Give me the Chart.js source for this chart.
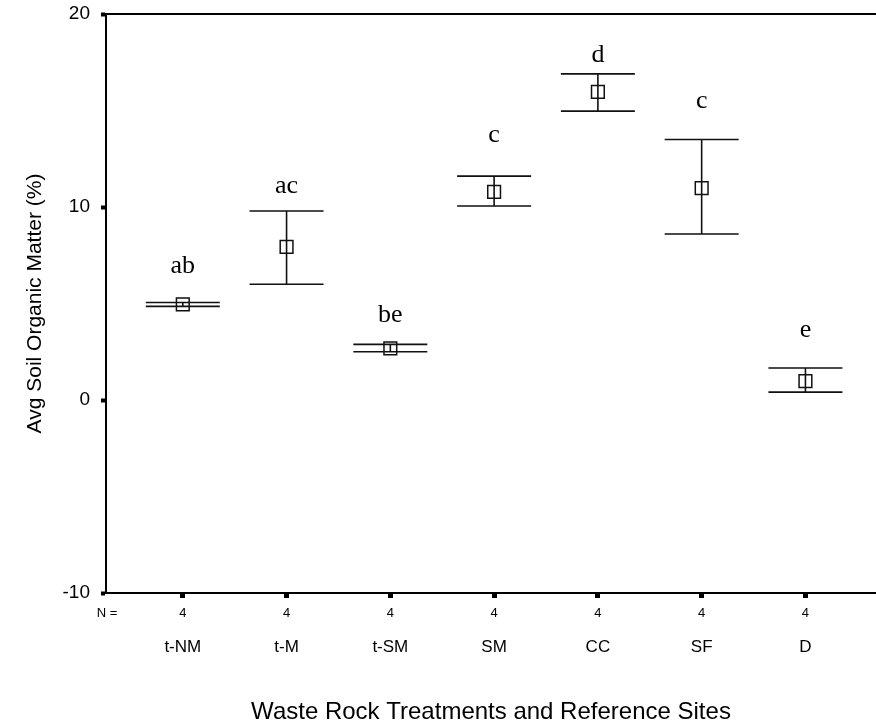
<!DOCTYPE html>
<html>
<head>
<meta charset="utf-8">
<script src="https://cdn.jsdelivr.net/npm/chart.js@4.4.1/dist/chart.umd.min.js"></script>
<style>
  html, body { margin: 0; padding: 0; background: #fff; overflow: hidden; }
  #wrap { width: 876px; height: 728px; }
  #c { display: block; width: 876px; height: 728px; }
</style>
</head>
<body>
<div id="wrap"><canvas id="c" width="876" height="728"></canvas></div>
<script>
// values
const sites = ['t-NM', 't-M', 't-SM', 'SM', 'CC', 'SF', 'D'];
const nCounts = [4, 4, 4, 4, 4, 4, 4];
const means = [4.95, 7.93, 2.68, 10.78, 15.96, 10.98, 0.98];
const upper = [5.05, 9.79, 2.88, 11.6, 16.9, 13.5, 1.66];
const lower = [4.85, 6.0, 2.5, 10.05, 14.97, 8.6, 0.41];
// significance letters and the value their baseline sits at
const letters = ['ab', 'ac', 'be', 'c', 'd', 'c', 'e'];
const letterAt = [6.58, 10.73, 4.04, 13.37, 17.51, 15.13, 3.26];
const yTicks = [-10, 0, 10, 20];

const SANS = '"Liberation Sans", Arial, sans-serif';
const SERIF = '"Liberation Serif", "Times New Roman", serif';

const errorBars = {
    id: 'errorBars',
    afterDatasetsDraw(chart) {
        const { ctx, scales: { x, y }, chartArea } = chart;
        ctx.save();
        ctx.strokeStyle = '#111';
        ctx.lineWidth = 1.6;
        means.forEach((m, i) => {
            const px = x.getPixelForValue(i);
            const yu = y.getPixelForValue(upper[i]);
            const yl = y.getPixelForValue(lower[i]);
            ctx.beginPath();
            ctx.moveTo(px, yu); ctx.lineTo(px, yl);
            ctx.moveTo(px - 37, yu); ctx.lineTo(px + 37, yu);
            ctx.moveTo(px - 37, yl); ctx.lineTo(px + 37, yl);
            ctx.stroke();
        });
        // letters
        ctx.fillStyle = '#000';
        ctx.font = '26px ' + SERIF;
        ctx.textAlign = 'center';
        ctx.textBaseline = 'alphabetic';
        letters.forEach((t, i) => {
            ctx.fillText(t, x.getPixelForValue(i), y.getPixelForValue(letterAt[i]));
        });
        // top frame line
        ctx.strokeStyle = '#000';
        ctx.lineWidth = 2;
        ctx.beginPath();
        ctx.moveTo(chartArea.left, chartArea.top);
        ctx.lineTo(chartArea.right, chartArea.top);
        ctx.stroke();
        ctx.restore();
    },
    afterDraw(chart) {
        const { ctx, scales: { x }, chartArea } = chart;
        ctx.save();
        ctx.fillStyle = '#000';
        ctx.textBaseline = 'middle';
        ctx.textAlign = 'center';
        ctx.font = '13px ' + SANS;
        ctx.fillText('N =', 107, 613);
        nCounts.forEach((n, i) => ctx.fillText(String(n), x.getPixelForValue(i), 613));
        ctx.font = '17px ' + SANS;
        sites.forEach((s, i) => ctx.fillText(s, x.getPixelForValue(i), 647));
        ctx.font = '24px ' + SANS;
        ctx.fillText('Waste Rock Treatments and Reference Sites', (chartArea.left + chartArea.right) / 2, 712);
        // y title
        ctx.translate(35, (chartArea.top + chartArea.bottom) / 2);
        ctx.rotate(-Math.PI / 2);
        ctx.font = '21px ' + SANS;
        ctx.fillText('Avg Soil Organic Matter (%)', 0, 0);
        ctx.restore();
    }
};

function noPad(s) {
    s.paddingTop = 0; s.paddingBottom = 0; s.paddingLeft = 0; s.paddingRight = 0;
}

new Chart(document.getElementById('c'), {
    type: 'scatter',
    data: {
        datasets: [{
            data: means.map((m, i) => ({ x: i, y: m })),
            pointStyle: 'rect',
            pointRadius: 9,
            pointHoverRadius: 9,
            backgroundColor: '#fff',
            borderColor: '#111',
            borderWidth: 1.5,
        }]
    },
    options: {
        responsive: false,
        maintainAspectRatio: false,
        animation: false,
        events: [],
        layout: { autoPadding: false, padding: { top: 14, right: 0, left: 0, bottom: 0 } },
        plugins: { legend: { display: false }, tooltip: { enabled: false } },
        scales: {
            x: {
                type: 'linear',
                min: -0.74,
                max: 6.68,
                afterFit: (s) => { s.height = 135; noPad(s); },
                border: { display: true, color: '#000', width: 2 },
                grid: { drawOnChartArea: false, drawTicks: true, tickLength: 5, tickWidth: 5, color: '#000' },
                ticks: { display: false, stepSize: 1, includeBounds: false },
            },
            y: {
                min: -10,
                max: 20,
                afterFit: (s) => { s.width = 106; noPad(s); },
                afterBuildTicks: (s) => { s.ticks = yTicks.map(v => ({ value: v })); },
                border: { display: true, color: '#000', width: 2 },
                grid: { drawOnChartArea: false, drawTicks: true, tickLength: 5, tickWidth: 4, color: '#000' },
                ticks: { color: '#000', padding: 11, font: { family: SANS, size: 19 } },
            }
        }
    },
    plugins: [errorBars]
});
</script>
</body>
</html>
